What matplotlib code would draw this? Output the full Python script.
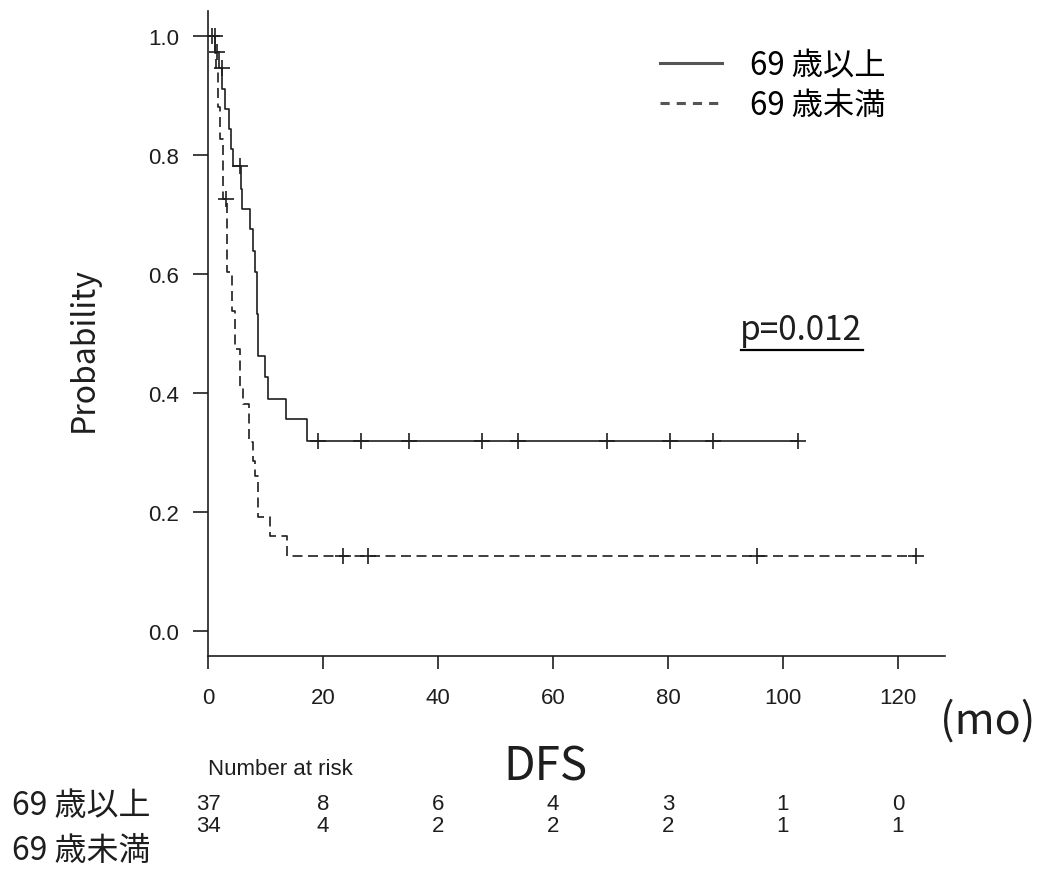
import numpy as np
import matplotlib
matplotlib.use("Agg")
from matplotlib import pyplot as plt
from matplotlib import transforms

# Kaplan-Meier steps (months, survival after the step)
older_label = "69 歳以上"
older_times = [1.3, 1.9, 2.5, 3.0, 3.7, 3.95, 4.4, 5.7, 5.95, 7.3, 7.9, 8.2, 8.5, 8.6,
               8.75, 9.9, 10.4, 13.5, 17.2]
older_surv = [0.973, 0.946, 0.911, 0.877, 0.844, 0.810, 0.782, 0.743, 0.709, 0.676,
              0.639, 0.603, 0.570, 0.533, 0.462, 0.427, 0.390, 0.356, 0.319]
older_censor = [0.7, 1.5, 2.4, 5.6, 19.2, 26.6, 34.9, 47.6, 53.9, 69.4, 80.3, 87.8, 102.6]

younger_label = "69 歳未満"
younger_times = [1.2, 1.4, 1.7, 2.1, 2.6, 3.35, 4.2, 4.7, 5.55, 6.15, 7.2, 7.9, 8.2,
                 8.75, 10.8, 13.7]
younger_surv = [0.971, 0.941, 0.881, 0.827, 0.726, 0.603, 0.538, 0.474, 0.412, 0.382,
                0.318, 0.286, 0.261, 0.192, 0.160, 0.126]
younger_censor = [1.15, 3.1, 23.5, 27.8, 95.5, 123.2]

risk_times = [0, 20, 40, 60, 80, 100, 120]
older_risk = [37, 8, 6, 4, 3, 1, 0]
younger_risk = [34, 4, 2, 2, 2, 1, 1]

p_text = "p=0.012"

JP = ["Noto Sans CJK JP", "DejaVu Sans"]
ARIAL = ["Liberation Sans", "DejaVu Sans"]
INK = "#1e1e1e"


def km_curve(times, surv, censor):
    xs = np.concatenate([[0.0], times, [max(censor[-1], times[-1])]])
    ys = np.concatenate([[1.0], surv, [surv[-1]]])
    return xs, ys


def surv_at(times, surv, t):
    idx = np.searchsorted(np.asarray(times), np.asarray(t), side="right")
    levels = np.concatenate([[1.0], surv])
    return levels[idx]


def main() -> None:
    plt.rcParams["font.family"] = JP
    fig = plt.figure(figsize=(10.38, 8.7), dpi=100)
    W, H = 1038, 870
    ax = fig.add_axes([208 / W, 1 - 657 / H, (945 - 208) / W, (657 - 12) / H])

    groups = [
        (older_label, older_times, older_surv, older_censor, "-"),
        (younger_label, younger_times, younger_surv, younger_censor, (0, (6, 3.3))),
    ]
    for label, times, surv, censor, ls in groups:
        xs, ys = km_curve(times, surv, censor)
        ax.plot(xs, ys, drawstyle="steps-post", color=INK, lw=1.2, ls=ls, label=label)
        ax.plot(censor, surv_at(times, surv, censor), ls="none", marker="+",
                ms=11, mew=1.2, color=INK)

    ax.set_xlim(0, 128.2)
    ax.set_ylim(-0.042, 1.042)
    ax.set_xticks(risk_times)
    ax.set_yticks(np.arange(0, 1.01, 0.2))
    ax.set_yticklabels([f"{v:.1f}" for v in np.arange(0, 1.01, 0.2)])
    for s in ("top", "right"):
        ax.spines[s].set_visible(False)
    for s in ("left", "bottom"):
        ax.spines[s].set_linewidth(1.2)
        ax.spines[s].set_color(INK)
    ax.tick_params(axis="y", length=11, width=1.2, color=INK, pad=10)
    ax.tick_params(axis="x", length=9.5, width=1.2, color=INK, pad=13)
    for lab in ax.get_xticklabels() + ax.get_yticklabels():
        lab.set_family(ARIAL)
        lab.set_fontsize(16)
        lab.set_color(INK)

    ax.set_ylabel("Probability", fontsize=23, color=INK)
    ax.yaxis.set_label_coords((100 - 208) / 737, 0.476)

    leg = ax.legend(loc="upper right", bbox_to_anchor=(914 / W, 1 - 22 / H),
                    bbox_transform=fig.transFigure, frameon=False, fontsize=22.5,
                    handlelength=2.0, handletextpad=0.9, labelspacing=0.25)
    for line in leg.get_lines():
        line.set_linewidth(2.2)
        line.set_color("#555555")
    leg.get_lines()[1].set_dashes([3, 2.3])

    fig.text(801 / W, 1 - 331 / H, p_text, fontsize=24, ha="center", va="center",
             color=INK)
    fig.add_artist(plt.Line2D([741 / W, 863 / W], [1 - 351 / H, 1 - 351 / H],
                              transform=fig.transFigure, color="black", lw=1.6))

    fig.text(545 / W, 1 - 767 / H, "DFS", fontsize=33, ha="center", va="center",
             color=INK)
    fig.text(988 / W, 1 - 722 / H, "(mo)", fontsize=31, ha="center", va="center",
             color=INK)

    # number-at-risk table, columns placed on the data x scale
    trans = transforms.blended_transform_factory(ax.transData, fig.transFigure)
    fig.text(208 / W, 1 - 770 / H, "Number at risk", fontsize=16, ha="left",
             va="center", family=ARIAL, color=INK)
    for counts, y in ((older_risk, 805), (younger_risk, 827)):
        for t, n in zip(risk_times, counts):
            ax.text(t, 1 - y / H, str(n), transform=trans, fontsize=16,
                    ha="center", va="center", family=ARIAL, color=INK)
    fig.text(12 / W, 1 - 806 / H, older_label, fontsize=23, ha="left", va="center",
             color=INK)
    fig.text(12 / W, 1 - 851 / H, younger_label, fontsize=23, ha="left", va="center",
             color=INK)

    fig.savefig("out.png", dpi=100)


if __name__ == "__main__":
    main()
